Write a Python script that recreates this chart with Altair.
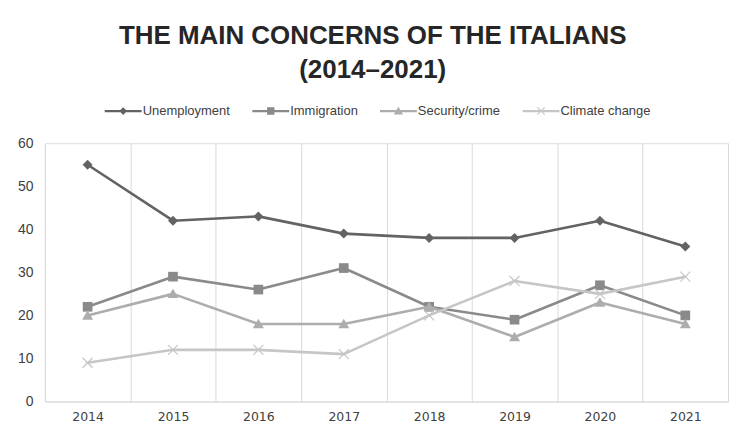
import altair as alt
import pandas as pd

# ---- data ----
years = ["2014", "2015", "2016", "2017", "2018", "2019", "2020", "2021"]
series_names = ["Unemployment", "Immigration", "Security/crime", "Climate change"]
unemployment = [55, 42, 43, 39, 38, 38, 42, 36]
immigration = [22, 29, 26, 31, 22, 19, 27, 20]
security_crime = [20, 25, 18, 18, 22, 15, 23, 18]
climate_change = [9, 12, 12, 11, 20, 28, 25, 29]
y_ticks = [0, 10, 20, 30, 40, 50, 60]
title_lines = ["THE MAIN CONCERNS OF THE ITALIANS", "(2014\u20132021)"]

values_by_series = [unemployment, immigration, security_crime, climate_change]
rows = []
for name, vals in zip(series_names, values_by_series):
    for yr, v in zip(years, vals):
        rows.append({"year": yr, "series": name, "value": v})
df = pd.DataFrame(rows)

# ---- styles ----
colors = ["#636363", "#8a8a8a", "#adadad", "#c6c6c6"]
SANS = "Liberation Sans, Arial, sans-serif"
WIDE = "DejaVu Sans, Liberation Sans, sans-serif"
GRID = "#d9d9d9"
TEXT = "#404040"


def fmt(v):
    return ("%.3f" % v).rstrip("0").rstrip(".")


def diamond(h):
    return "M0,{m}L{p},0L0,{p}L{m},0Z".format(p=fmt(h), m=fmt(-h))


def square(h):
    return "M{m},{m}H{p}V{p}H{m}Z".format(p=fmt(h), m=fmt(-h))


def triangle(w, top, bottom):
    return "M0,{t}L{w},{b}H{mw}Z".format(t=fmt(top), w=fmt(w), b=fmt(bottom), mw=fmt(-w))


def xmark(a, t):
    d = t / 2 ** 0.5
    p1 = "M{0},{1}L{2},{3}L{4},{5}L{6},{7}Z".format(
        fmt(-a + d), fmt(-a - d), fmt(a + d), fmt(a - d),
        fmt(a - d), fmt(a + d), fmt(-a - d), fmt(-a + d))
    p2 = "M{0},{1}L{2},{3}L{4},{5}L{6},{7}Z".format(
        fmt(a + d), fmt(-a + d), fmt(-a + d), fmt(a + d),
        fmt(-a - d), fmt(a - d), fmt(a - d), fmt(-a - d))
    return p1 + p2


def hline(t):
    return "M-1,{m}H1V{p}H-1Z".format(p=fmt(t), m=fmt(-t))


# chart markers (unit paths, scaled by mark size)
marker_paths = [
    diamond(1.0),
    square(0.97),
    triangle(1.1, -1.05, 0.85),
    xmark(1.0, 0.12),
]
# legend symbols: line segment with a small marker in the middle
lt = 0.06
legend_paths = [
    hline(lt) + diamond(0.21),
    hline(lt) + square(0.2),
    hline(lt) + triangle(0.25, -0.23, 0.19),
    hline(lt) + xmark(0.2, 0.03),
]

color_scale = alt.Scale(domain=series_names, range=colors)

x_enc = alt.X(
    "year:O",
    scale=alt.Scale(type="band", domain=years, paddingInner=0, paddingOuter=0),
    axis=alt.Axis(
        title=None, labelAngle=0, tickBand="extent", grid=True, gridColor=GRID,
        gridWidth=1, domainColor=GRID, domainWidth=1, ticks=False,
        labelFont=WIDE, labelFontSize=12.5, labelColor=TEXT, labelPadding=9,
    ),
)
y_enc = alt.Y(
    "value:Q",
    scale=alt.Scale(domain=[0, 60], nice=False),
    axis=alt.Axis(
        title=None, values=y_ticks, grid=False, domain=False, ticks=False,
        labelFont=SANS, labelFontSize=14, labelColor=TEXT, labelPadding=12,
    ),
)

base = alt.Chart(df)

legend_def = dict(
    title=None, orient="none", legendX=60, legendY=-51, direction="horizontal",
    symbolSize=1369, symbolStrokeWidth=0, symbolOpacity=1,
    labelFont=SANS, labelFontSize=13, labelColor=TEXT,
    columnPadding=22, labelOffset=1,
)
# legend carrier layer, drawn first so the series marks cover it
legend_layer = base.mark_point(filled=True).encode(
    x=x_enc, y=y_enc,
    color=alt.Color("series:N", scale=color_scale, legend=alt.Legend(**legend_def)),
    shape=alt.Shape(
        "series:N",
        scale=alt.Scale(domain=series_names, range=legend_paths),
        legend=alt.Legend(**legend_def),
    ),
)
layers = [legend_layer]
for name, path in zip(series_names, marker_paths):
    sub = base.transform_filter(alt.datum.series == name)
    layers.append(
        sub.mark_line(strokeWidth=2.6, strokeJoin="round").encode(
            x=x_enc, y=y_enc,
            color=alt.Color("series:N", scale=color_scale, legend=None),
        )
    )
    layers.append(
        sub.mark_point(shape=path, filled=True, size=100, opacity=1, strokeWidth=0).encode(
            x=x_enc, y=y_enc,
            color=alt.Color("series:N", scale=color_scale, legend=None),
        )
    )

chart = (
    alt.layer(*layers)
    .properties(
        width=685,
        height=259,
        padding={"left": 9, "top": 15, "right": 5, "bottom": 5},
        title=alt.TitleParams(
            text=title_lines, font=SANS, fontSize=26, fontWeight="bold",
            color="#262626", lineHeight=34, anchor="middle", frame="bounds", offset=9,
        ),
    )
    .configure_view(stroke=None)
    .configure(background="white")
)

chart.save("out.html", embed_options={"renderer": "svg", "actions": False})
